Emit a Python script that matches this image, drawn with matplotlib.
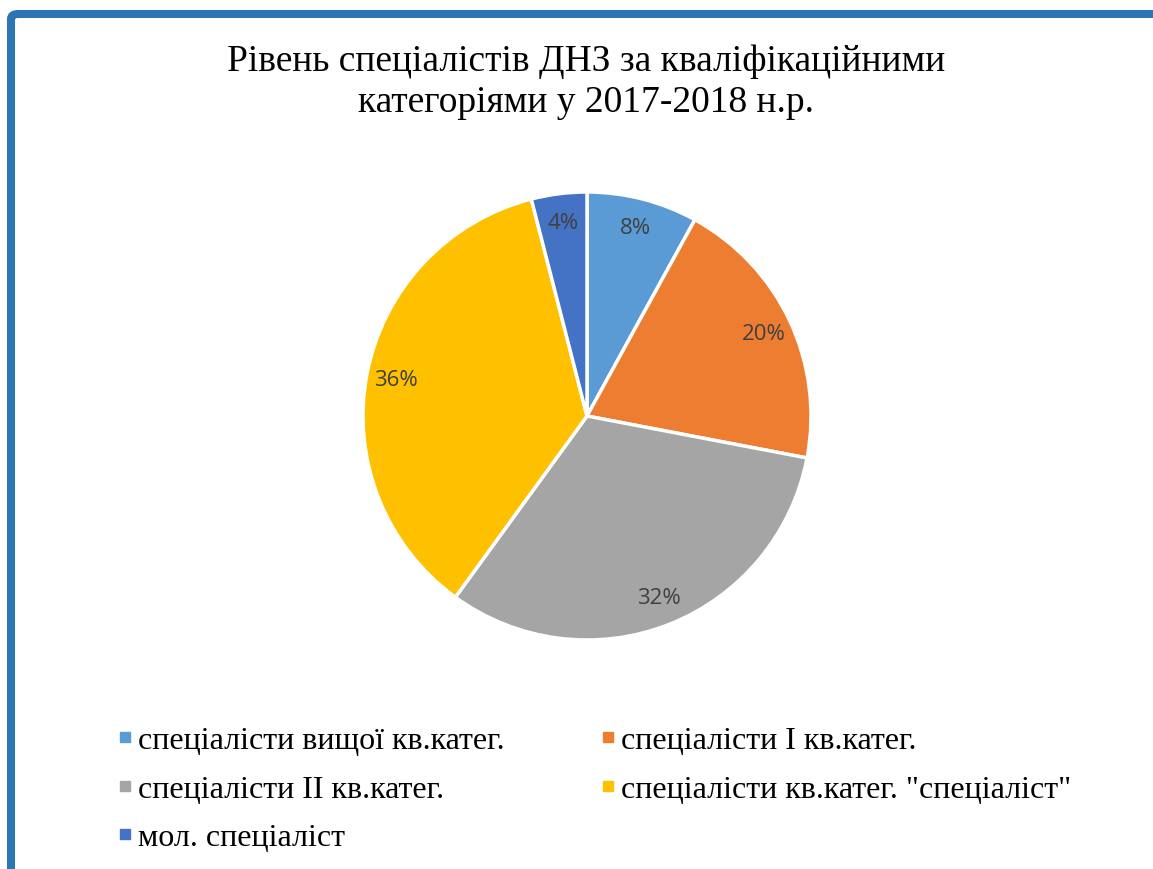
import matplotlib.pyplot as plt
from matplotlib.patches import FancyBboxPatch
from matplotlib.lines import Line2D

labels = ["спеціалісти вищої кв.катег.", "спеціалісти І кв.катег.",
          "спеціалісти ІІ кв.катег.", "спеціалісти кв.катег. \"спеціаліст\"",
          "мол. спеціаліст"]
values = [8, 20, 32, 36, 4]
colors = ["#5B9BD5", "#ED7D31", "#A5A5A5", "#FFC000", "#4472C4"]
title = "Рівень спеціалістів ДНЗ за кваліфікаційними\nкатегоріями у 2017-2018 н.р."

W, H = 1153, 870
fig = plt.figure(figsize=(W / 100, H / 100), dpi=100)

# blue frame (only left/top visible)
frame = FancyBboxPatch((11 / W, -0.1), 1.2, (H - 15) / H + 0.1,
                       boxstyle="round,pad=0,rounding_size=0.006",
                       transform=fig.transFigure, fill=False,
                       edgecolor="#2E75B6", linewidth=5.8, clip_on=False)
fig.patches.append(frame)

fig.text(586 / W, 1 - 82 / H, title, ha="center", va="center",
         fontsize=27, family="Liberation Serif", linespacing=1.25)

cx, cy, r = 587, 417, 224
ax = fig.add_axes([(cx - r) / W, (H - cy - r) / H, 2 * r / W, 2 * r / H])
wedges, texts, autotexts = ax.pie(
    values, colors=colors, startangle=90, counterclock=False,
    autopct="%1.0f%%", pctdistance=0.87,
    wedgeprops=dict(edgecolor="white", linewidth=2.5),
    textprops=dict(color="#404040", fontsize=16, family="Open Sans"))
ax.set_xlim(-1, 1)
ax.set_ylim(-1, 1)
ax.axis("off")

handles = [Line2D([], [], marker="s", linestyle="none", markersize=7.5,
                  markerfacecolor=c, markeredgecolor=c) for c in colors]
order = [0, 2, 4, 1, 3]
fig.legend([handles[i] for i in order], [labels[i] for i in order],
           loc="upper left", bbox_to_anchor=(119 / W, 1 - 727 / H),
           ncol=2, frameon=False, handlelength=0.4, handletextpad=0.2,
           columnspacing=3.03, labelspacing=0.6, borderpad=0, borderaxespad=0,
           prop=dict(family="Liberation Serif", size=23))

fig.savefig("out.png", dpi=100)
